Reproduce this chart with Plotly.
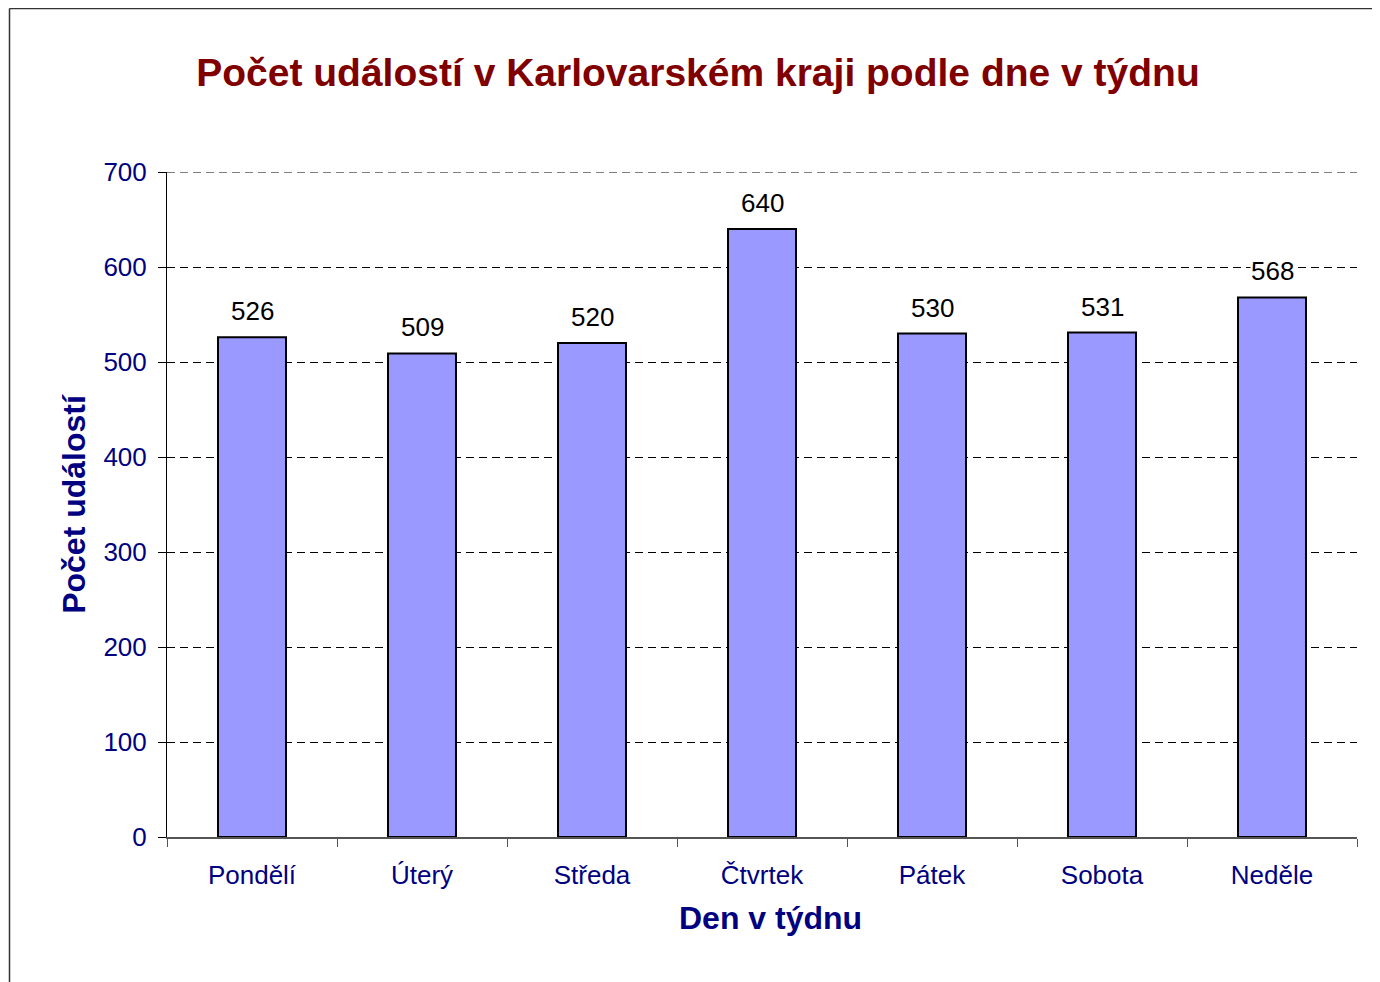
import plotly.graph_objects as go

days = ["Pondělí", "Úterý", "Středa", "Čtvrtek", "Pátek", "Sobota", "Neděle"]
counts = [526, 509, 520, 640, 530, 531, 568]
y_ticks = [0, 100, 200, 300, 400, 500, 600, 700]

FONT = "Liberation Sans, Arial, sans-serif"
NAVY = "#000080"

fig = go.Figure(go.Bar(
    x=days, y=counts,
    width=0.4,
    marker=dict(color="#9999FF", line=dict(color="black", width=2)),
    hoverinfo="x+y",
))

for d, v in zip(days, counts):
    fig.add_annotation(x=d, y=v, text=str(v), showarrow=False,
                       xanchor="center", yanchor="bottom", yshift=10,
                       bgcolor="white", borderpad=0,
                       font=dict(family=FONT, size=26, color="black"))

W, H = 1380, 982
L, T = 159, 164
pw, ph = 1190, 665
R, B = W - L - pw, H - T - ph

fig.add_annotation(xref="paper", yref="paper", x=(762 - L) / pw, y=-(910 - T - ph) / ph,
                   text="<b>Den v týdnu</b>", showarrow=False,
                   xanchor="center", yanchor="middle",
                   font=dict(family=FONT, size=32, color=NAVY))

fig.update_layout(
    width=W, height=H,
    margin=dict(l=L, r=R, t=T, b=B),
    paper_bgcolor="white", plot_bgcolor="white",
    showlegend=False,
    title=dict(
        text="<b>Počet událostí v Karlovarském kraji podle dne v týdnu</b>",
        font=dict(family=FONT, size=39, color="#800000"),
        x=0.5, xanchor="center", y=1 - 64 / H, yanchor="middle",
    ),
    xaxis=dict(
        tickson="boundaries", ticks="outside", ticklen=8, tickcolor="#555555",
        showline=True, linecolor="#555555", linewidth=1.5,
        tickfont=dict(family=FONT, size=26, color=NAVY),
        ticklabelstandoff=14,
        showgrid=False,
    ),
    yaxis=dict(
        range=[0, 700], tickvals=y_ticks,
        ticks="outside", ticklen=8, tickcolor="black",
        showline=True, linecolor="black", linewidth=1,
        showgrid=True, gridcolor="black", gridwidth=1, griddash="8px,5px",
        zeroline=False,
        tickfont=dict(family=FONT, size=26, color=NAVY),
        ticklabelstandoff=6,
        title=dict(text="<b>Počet událostí</b>", font=dict(family=FONT, size=32, color=NAVY), standoff=8),
    ),
    shapes=[
        dict(type="line", xref="paper", yref="y",
             x0=0, x1=1, y0=y_ticks[-1], y1=y_ticks[-1],
             line=dict(color="black", width=1, dash="8px,5px"), layer="below"),
        dict(type="line", xref="paper", yref="paper",
             x0=(1.5 - L) / pw, x1=(W + 5 - L) / pw,
             y0=(H - B - 0.5) / ph, y1=(H - B - 0.5) / ph,
             line=dict(color="#333333", width=1.5)),
        dict(type="line", xref="paper", yref="paper",
             x0=(1.5 - L) / pw, x1=(1.5 - L) / pw,
             y0=(H - B - 0.5) / ph, y1=-(B + 5) / ph,
             line=dict(color="#333333", width=1.5)),
    ],
)

fig.write_html("out.html")
